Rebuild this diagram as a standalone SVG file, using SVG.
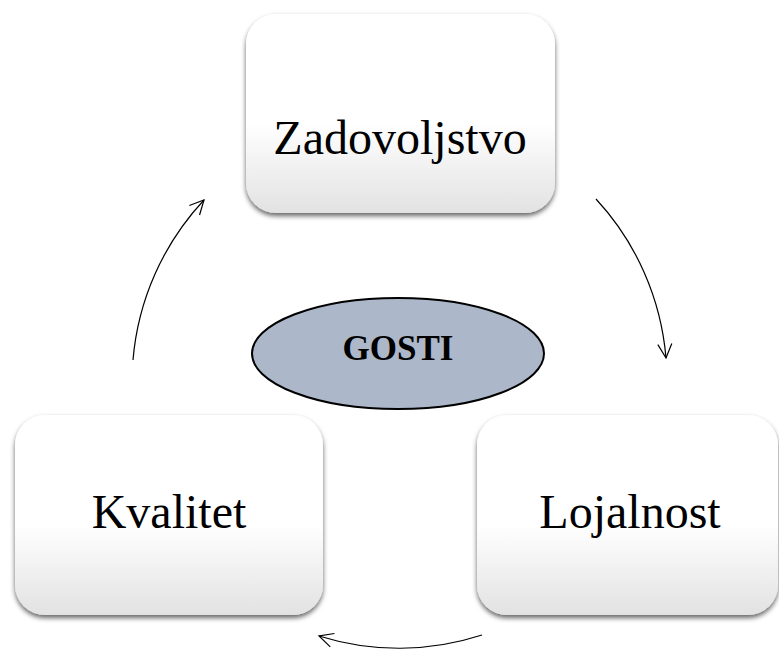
<svg xmlns="http://www.w3.org/2000/svg" width="779" height="651" viewBox="0 0 779 651">
<style>
.box{fill:url(#g);filter:url(#sh)}
.conn{fill:none;stroke:#000;stroke-width:1.2;marker-end:url(#ah)}
</style>
<defs>
<linearGradient id="g" x1="0" y1="0" x2="0" y2="1">
<stop offset="0" stop-color="#ffffff"/>
<stop offset="0.55" stop-color="#ffffff"/>
<stop offset="1" stop-color="#e2e2e2"/>
</linearGradient>
<filter id="sh" x="-10%" y="-10%" width="120%" height="125%">
<feDropShadow dx="0" dy="3" stdDeviation="2.5" flood-color="#000" flood-opacity="0.6"/>
</filter>
<marker id="ah" viewBox="0 0 20 20" refX="18" refY="10" markerWidth="20" markerHeight="20" markerUnits="userSpaceOnUse" orient="auto">
<path d="M4,3 L18,10 L4,17" fill="none" stroke="#000" stroke-width="1.2"/>
</marker>
</defs>
<g id="connectors">
<path class="conn" d="M133,360 A267,267 0 0 1 204,200"/>
<path class="conn" d="M596,199 A267,267 0 0 1 666,358"/>
<path class="conn" d="M482,635 A267,267 0 0 1 319,636"/>
</g>
<g font-family="Liberation Serif, Times New Roman, serif" font-size="48" text-anchor="middle" fill="#000">
<g id="zadovoljstvo">
<rect class="box" x="246" y="14" width="309" height="199" rx="30"/>
<text x="400" y="154">Zadovoljstvo</text>
</g>
<g id="kvalitet">
<rect class="box" x="15" y="415" width="308" height="200" rx="30"/>
<text x="169" y="528">Kvalitet</text>
</g>
<g id="lojalnost">
<rect class="box" x="477" y="415" width="301" height="200" rx="30"/>
<text x="630" y="528">Lojalnost</text>
</g>
<g id="gosti">
<ellipse cx="398" cy="353.5" rx="146" ry="55.5" fill="#acb7ca" stroke="#000" stroke-width="2"/>
<text x="398" y="360" font-size="35" font-weight="bold">GOSTI</text>
</g>
</g>
</svg>
